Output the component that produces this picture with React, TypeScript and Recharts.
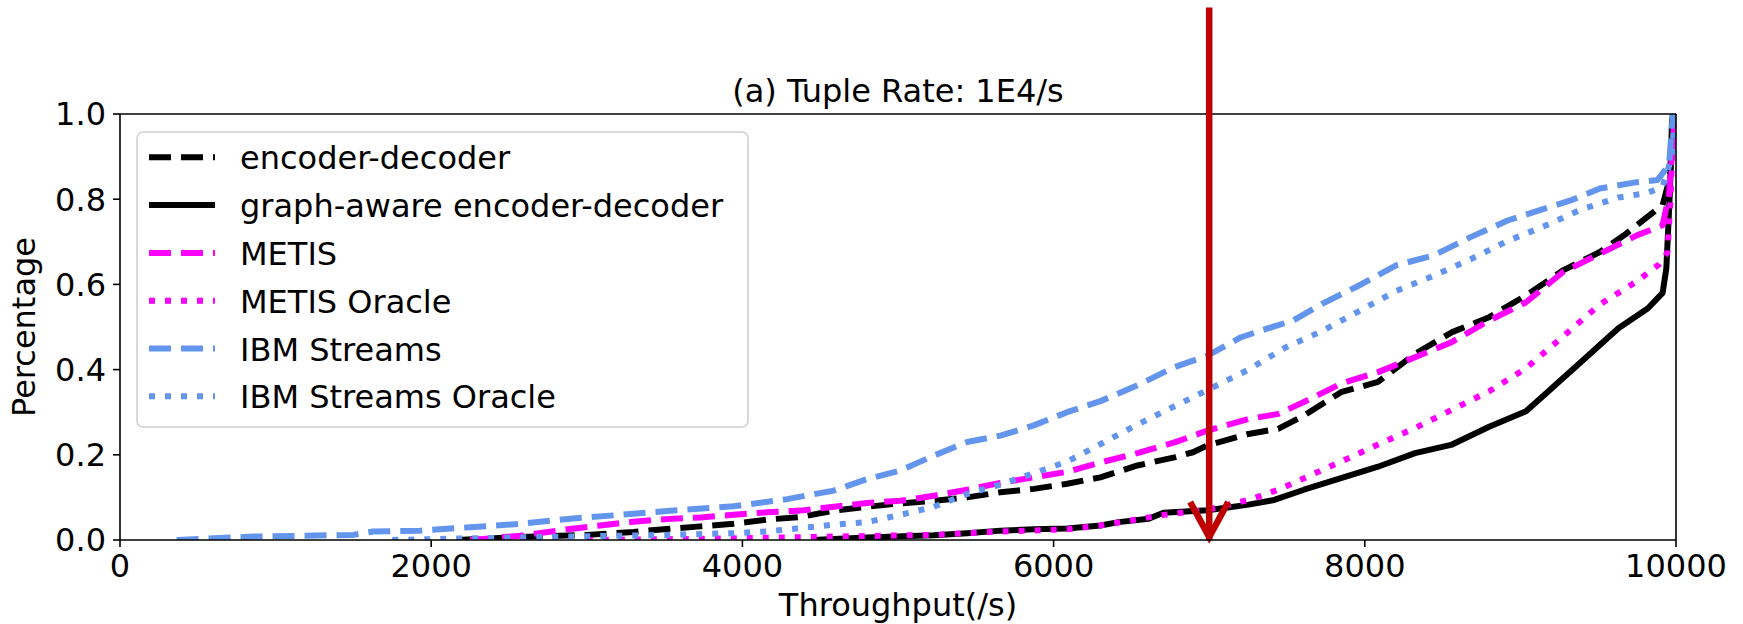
import React from 'react'
import { LineChart, Line, XAxis, YAxis, Legend, ReferenceLine, Label } from 'recharts'

const FONT = '"DejaVu Sans", sans-serif'

// CDF points: [throughput (/s), percentage]
const encoderDecoder = [
  [2164, 0], [2572, 0.007], [3000, 0.012], [3300, 0.019], [3515, 0.026], [3729, 0.032], [3943, 0.038],
  [4158, 0.048], [4372, 0.054], [4587, 0.069], [4801, 0.078], [5015, 0.086], [5230, 0.092], [5444, 0.1],
  [5658, 0.112], [5873, 0.12], [6087, 0.132], [6301, 0.147], [6539, 0.175], [6777, 0.194], [6896, 0.206],
  [6989, 0.222], [7253, 0.249], [7443, 0.261], [7609, 0.292], [7847, 0.347], [8085, 0.371], [8323, 0.437],
  [8561, 0.488], [8799, 0.523], [9036, 0.574], [9274, 0.633], [9511, 0.676], [9680, 0.719], [9870, 0.774],
  [9914, 0.786], [9960, 0.85], [9985, 1.0],
]

const graphAware = [
  [4450, 0], [4801, 0.006], [5230, 0.011], [5444, 0.016], [5658, 0.022], [5873, 0.025], [6087, 0.027],
  [6301, 0.034], [6418, 0.042], [6611, 0.05], [6706, 0.064], [6989, 0.07], [7253, 0.083], [7418, 0.094],
  [7609, 0.118], [7847, 0.145], [8085, 0.172], [8323, 0.204], [8561, 0.224], [8799, 0.266], [9036, 0.302],
  [9155, 0.341], [9393, 0.419], [9630, 0.497], [9820, 0.544], [9914, 0.58], [9938, 0.638], [9962, 0.826],
  [9974, 0.98], [9980, 1.0],
]

const metis = [
  [2250, 0], [2572, 0.01], [2893, 0.026], [3086, 0.034], [3300, 0.043], [3515, 0.049], [3729, 0.053],
  [3943, 0.059], [4158, 0.065], [4372, 0.069], [4587, 0.078], [4801, 0.087], [5015, 0.092], [5230, 0.104],
  [5444, 0.118], [5658, 0.134], [5873, 0.147], [6087, 0.16], [6301, 0.182], [6539, 0.204], [6777, 0.229],
  [6989, 0.257], [7253, 0.284], [7443, 0.296], [7609, 0.324], [7847, 0.367], [8085, 0.394], [8323, 0.429],
  [8561, 0.465], [8799, 0.515], [9036, 0.558], [9274, 0.629], [9511, 0.672], [9748, 0.715], [9914, 0.739],
  [9955, 0.81], [9985, 0.96], [9995, 1.0],
]

const metisOracle = [
  [3000, 0], [3800, 0.003], [4587, 0.008], [5230, 0.012], [5658, 0.02], [6087, 0.025], [6301, 0.034],
  [6418, 0.041], [6706, 0.059], [6989, 0.071], [7253, 0.094], [7443, 0.118], [7609, 0.145], [7847, 0.184],
  [8085, 0.224], [8323, 0.263], [8561, 0.306], [8799, 0.349], [9036, 0.403], [9274, 0.478], [9511, 0.553],
  [9748, 0.607], [9891, 0.647], [9945, 0.675], [9965, 0.8], [9985, 1.0],
]

const ibmStreams = [
  [364, 0], [857, 0.008], [1500, 0.012], [1627, 0.02], [1929, 0.022], [2250, 0.03], [2572, 0.038],
  [2893, 0.05], [3215, 0.059], [3515, 0.068], [3943, 0.079], [4287, 0.096], [4587, 0.116], [4801, 0.143],
  [5015, 0.163], [5230, 0.198], [5444, 0.23], [5658, 0.245], [5873, 0.269], [6087, 0.3], [6301, 0.326],
  [6539, 0.363], [6777, 0.406], [6989, 0.433], [7205, 0.476], [7371, 0.496], [7538, 0.515], [7728, 0.555],
  [7966, 0.598], [8204, 0.645], [8442, 0.668], [8680, 0.711], [8918, 0.75], [9155, 0.778], [9322, 0.797],
  [9510, 0.825], [9748, 0.84], [9880, 0.845], [9955, 0.88], [9980, 1.0],
]

const ibmStreamsOracle = [
  [1750, 0], [2250, 0.004], [2900, 0.008], [3515, 0.012], [3943, 0.016], [4158, 0.02], [4372, 0.028],
  [4587, 0.036], [4801, 0.042], [5015, 0.059], [5230, 0.078], [5444, 0.108], [5658, 0.13], [5873, 0.157],
  [6087, 0.184], [6301, 0.225], [6539, 0.271], [6777, 0.314], [6989, 0.352], [7253, 0.4], [7490, 0.452],
  [7728, 0.491], [7966, 0.538], [8204, 0.585], [8442, 0.62], [8680, 0.659], [8918, 0.702], [9155, 0.737],
  [9393, 0.776], [9630, 0.804], [9820, 0.815], [9914, 0.83], [9975, 0.9], [9990, 1.0],
]

const xTicks = [0, 2000, 4000, 6000, 8000, 10000]
const yTicks = [0, 0.2, 0.4, 0.6, 0.8, 1.0]

const DASHED = '22 10'
const DOTTED = '6 10'

const series = [
  { name: 'encoder-decoder', points: encoderDecoder, color: '#000000', dash: DASHED },
  { name: 'graph-aware encoder-decoder', points: graphAware, color: '#000000', dash: undefined },
  { name: 'METIS', points: metis, color: '#ff00ff', dash: DASHED },
  { name: 'METIS Oracle', points: metisOracle, color: '#ff00ff', dash: DOTTED },
  { name: 'IBM Streams', points: ibmStreams, color: '#6495ed', dash: DASHED },
  { name: 'IBM Streams Oracle', points: ibmStreamsOracle, color: '#6495ed', dash: DOTTED },
]

const LegendBox = () => (
  <svg width={616} height={300} style={{ display: 'block' }}>
    <rect x={1} y={1} width={611} height={295} rx={6} fill="rgba(255,255,255,0.8)" stroke="#d0d0d0" strokeWidth={1.6} />
    {series.map((s, i) => {
      const cy = 26.3 + i * 47.8
      return (
        <g key={s.name}>
          <line x1={13} x2={79} y1={cy} y2={cy} stroke={s.color} strokeWidth={6} strokeDasharray={s.dash} />
          <text x={104} y={cy + 12} fontSize={32} fontFamily={FONT} fill="#000">{s.name}</text>
        </g>
      )
    })}
  </svg>
)

// red annotation arrow, head drawn in pixels at the lower end of the segment
const ArrowShape = (p: any) => {
  const { x1, y1, x2, y2 } = p
  return (
    <g>
      <line x1={x1} y1={y1} x2={x2} y2={y2} stroke="#c00000" strokeWidth={6.5} />
      <path d={`M${x2 - 19},${y2 - 38} L${x2},${y2 - 3} L${x2 + 19},${y2 - 38}`} fill="none" stroke="#c00000" strokeWidth={6.5} strokeLinejoin="miter" />
    </g>
  )
}

const tickStyle = { fill: '#000', fontSize: 32, fontFamily: FONT }

export default function App() {
  return (
    <div style={{ position: 'absolute', left: 0, top: 0, width: 1743, height: 624, overflow: 'hidden', background: '#fff' }}>
      <LineChart width={1743} height={624} margin={{ top: 114, right: 67, left: 20, bottom: 0 }}>
        <XAxis
          dataKey="x"
          type="number"
          domain={[0, 10000]}
          ticks={xTicks}
          interval={0}
          height={84}
          tickSize={7}
          tickMargin={7}
          tick={tickStyle}
          stroke="#000"
          strokeWidth={1.6}
          allowDataOverflow
        >
          <Label
            content={() => (
              <g>
                <text x={898} y={616} textAnchor="middle" fontSize={32} fontFamily={FONT} fill="#000">Throughput(/s)</text>
                <text x={898} y={102} textAnchor="middle" fontSize={32} fontFamily={FONT} fill="#000">(a) Tuple Rate: 1E4/s</text>
              </g>
            )}
          />
        </XAxis>
        <YAxis
          type="number"
          domain={[0, 1]}
          ticks={yTicks}
          interval={0}
          width={100}
          tickSize={7}
          tickMargin={7}
          tick={tickStyle}
          tickFormatter={(v: number) => v.toFixed(1)}
          stroke="#000"
          strokeWidth={1.6}
          allowDataOverflow
        >
          <Label
            content={() => (
              <text x={35} y={327} transform="rotate(-90, 35, 327)" textAnchor="middle" fontSize={32} fontFamily={FONT} fill="#000">Percentage</text>
            )}
          />
        </YAxis>
        {series.map((s) => (
          <Line
            key={s.name}
            name={s.name}
            data={s.points.map(([x, y]) => ({ x, y }))}
            dataKey="y"
            type="linear"
            stroke={s.color}
            strokeWidth={6}
            strokeDasharray={s.dash}
            strokeLinecap="butt"
            strokeLinejoin="round"
            dot={false}
            activeDot={false}
            isAnimationActive={false}
          />
        ))}
        {/* top and right spines */}
        <ReferenceLine y={1} ifOverflow="visible" stroke="#000" strokeWidth={1.6} />
        <ReferenceLine x={10000} ifOverflow="visible" stroke="#000" strokeWidth={1.6} />
        <ReferenceLine
          segment={[{ x: 7000, y: 1.25 }, { x: 7000, y: 0 }]}
          ifOverflow="visible"
          stroke="#c00000"
          strokeWidth={6.5}
          shape={ArrowShape}
        />
        <Legend
          layout="vertical"
          align="center"
          verticalAlign="middle"
          content={() => <LegendBox />}
          wrapperStyle={{ left: 136, top: 131, width: 616, height: 300 }}
        />
      </LineChart>
    </div>
  )
}
